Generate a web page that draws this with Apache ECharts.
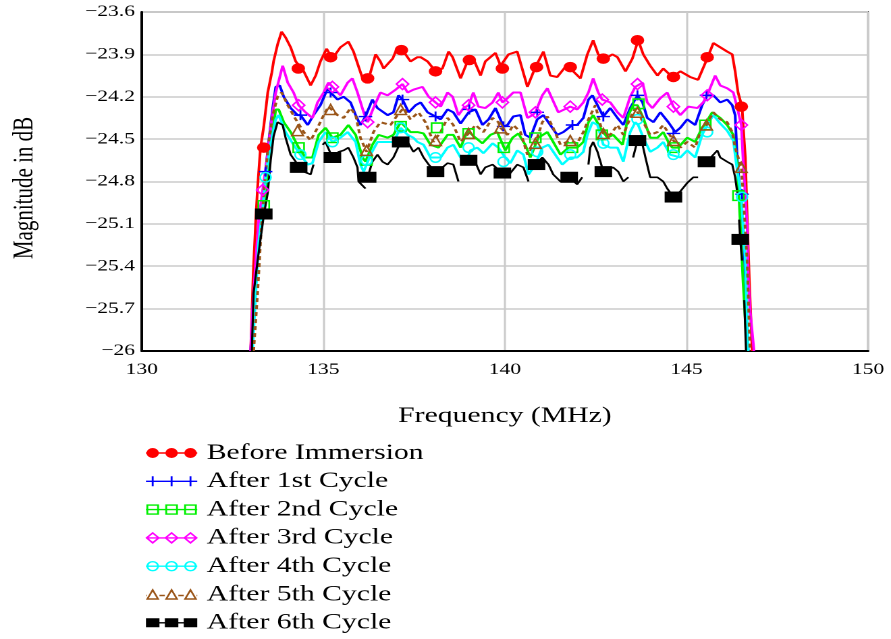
<!DOCTYPE html>
<html>
<head>
<meta charset="utf-8">
<script src="https://cdn.jsdelivr.net/npm/echarts@6/dist/echarts.min.js"></script>
<style>
  html, body { margin: 0; padding: 0; background: #fff; overflow: hidden; }
  /* chart is laid out narrow and widened horizontally, like the original export */
  #chart { width: 660px; height: 639px; transform: scaleX(1.35); transform-origin: 0 0; }
</style>
</head>
<body>
<div id="chart"></div>
<script>
// Axis ticks
const xTicks = [130, 135, 140, 145, 150];
const yTicks = [-26, -25.7, -25.4, -25.1, -24.8, -24.5, -24.2, -23.9, -23.6];

const seriesNames = ['Before Immersion', 'After 1st Cycle', 'After 2nd Cycle', 'After 3rd Cycle',
                     'After 4th Cycle', 'After 5th Cycle', 'After 6th Cycle'];

// Frequency (MHz), magnitude (dB)
const beforeImmersion = [[133.00,-26.0],[133.07,-25.45],[133.14,-25.07],[133.19,-24.84],[133.27,-24.56],[133.36,-24.41],[133.47,-24.17],[133.58,-24.03],[133.63,-23.95],[133.74,-23.83],[133.85,-23.74],[133.96,-23.78],[134.10,-23.85],[134.24,-23.95],[134.46,-24.02],[134.65,-24.12],[134.79,-24.05],[134.92,-23.95],[135.09,-23.86],[135.25,-23.93],[135.47,-23.85],[135.69,-23.81],[135.83,-23.88],[136.08,-24.07],[136.24,-24.08],[136.44,-23.90],[136.57,-23.95],[136.66,-24.00],[136.91,-23.93],[137.04,-23.85],[137.21,-23.88],[137.40,-23.95],[137.59,-23.92],[137.68,-23.92],[137.87,-23.95],[138.09,-24.02],[138.28,-24.00],[138.45,-23.88],[138.56,-23.92],[138.78,-24.07],[139.00,-23.93],[139.13,-23.93],[139.33,-24.05],[139.46,-23.95],[139.74,-23.89],[139.88,-23.98],[140.10,-23.90],[140.34,-23.88],[140.62,-24.13],[140.84,-23.99],[141.06,-23.88],[141.25,-24.05],[141.44,-24.06],[141.66,-23.99],[141.88,-24.02],[142.08,-24.07],[142.27,-23.90],[142.43,-23.80],[142.57,-23.90],[142.77,-23.93],[142.96,-23.90],[143.10,-23.92],[143.32,-24.02],[143.51,-23.93],[143.67,-23.80],[143.81,-23.90],[144.00,-23.98],[144.20,-24.05],[144.36,-24.00],[144.61,-24.06],[144.83,-24.02],[145.10,-24.06],[145.32,-24.08],[145.57,-23.93],[145.74,-23.82],[145.93,-23.85],[146.12,-23.88],[146.26,-23.90],[146.34,-24.02],[146.42,-24.17],[146.53,-24.27],[146.56,-24.40],[146.62,-24.63],[146.67,-25.04],[146.73,-25.50],[146.81,-26.0]];
const beforeImmersionMarks = [[133.36,-24.56],[134.31,-24.00],[135.20,-23.92],[136.22,-24.07],[137.15,-23.87],[138.09,-24.02],[139.02,-23.94],[139.93,-24.00],[140.87,-23.99],[141.80,-23.99],[142.71,-23.93],[143.65,-23.80],[144.64,-24.06],[145.57,-23.92],[146.51,-24.27]];

const cycle1 = [[133.00,-26.0],[133.08,-25.64],[133.16,-25.36],[133.27,-25.00],[133.41,-24.73],[133.49,-24.53],[133.60,-24.29],[133.69,-24.13],[133.80,-24.12],[133.91,-24.20],[134.10,-24.28],[134.29,-24.33],[134.37,-24.33],[134.57,-24.40],[134.73,-24.33],[134.92,-24.26],[135.12,-24.14],[135.20,-24.17],[135.39,-24.22],[135.56,-24.20],[135.75,-24.24],[135.89,-24.33],[136.02,-24.40],[136.16,-24.34],[136.35,-24.22],[136.49,-24.28],[136.77,-24.33],[136.93,-24.31],[137.07,-24.19],[137.18,-24.22],[137.35,-24.31],[137.54,-24.26],[137.68,-24.24],[137.87,-24.31],[138.09,-24.34],[138.23,-24.36],[138.42,-24.29],[138.58,-24.31],[138.78,-24.39],[139.00,-24.31],[139.19,-24.29],[139.38,-24.40],[139.55,-24.36],[139.74,-24.28],[139.96,-24.41],[140.07,-24.40],[140.23,-24.34],[140.43,-24.33],[140.56,-24.47],[140.70,-24.49],[140.89,-24.36],[141.06,-24.33],[141.25,-24.40],[141.44,-24.47],[141.61,-24.45],[141.86,-24.40],[141.99,-24.40],[142.16,-24.35],[142.30,-24.22],[142.41,-24.19],[142.55,-24.26],[142.71,-24.34],[142.90,-24.28],[143.10,-24.35],[143.26,-24.40],[143.45,-24.28],[143.65,-24.19],[143.79,-24.24],[143.92,-24.35],[144.09,-24.38],[144.28,-24.31],[144.50,-24.38],[144.69,-24.45],[144.83,-24.42],[145.02,-24.36],[145.24,-24.40],[145.43,-24.26],[145.57,-24.19],[145.74,-24.19],[145.93,-24.24],[146.12,-24.22],[146.26,-24.26],[146.34,-24.33],[146.40,-24.65],[146.48,-24.89],[146.56,-25.12],[146.64,-25.59],[146.70,-26.0]];
const cycle1Marks = [[133.41,-24.73],[134.37,-24.33],[135.20,-24.17],[136.16,-24.34],[137.18,-24.22],[138.09,-24.34],[139.02,-24.29],[139.96,-24.41],[140.89,-24.31],[141.86,-24.40],[142.71,-24.34],[143.65,-24.19],[144.64,-24.46],[145.55,-24.19],[146.53,-24.89]];

const cycle2 = [[133.03,-26.0],[133.14,-25.48],[133.25,-25.12],[133.36,-24.97],[133.41,-24.88],[133.49,-24.65],[133.60,-24.46],[133.69,-24.29],[133.77,-24.29],[133.91,-24.38],[134.10,-24.45],[134.32,-24.56],[134.51,-24.63],[134.70,-24.63],[134.87,-24.47],[135.06,-24.42],[135.25,-24.49],[135.47,-24.47],[135.69,-24.40],[135.89,-24.47],[136.08,-24.63],[136.16,-24.66],[136.35,-24.54],[136.52,-24.47],[136.77,-24.49],[136.93,-24.47],[137.13,-24.38],[137.40,-24.45],[137.59,-24.45],[137.76,-24.46],[137.95,-24.54],[138.17,-24.56],[138.42,-24.47],[138.58,-24.47],[138.78,-24.56],[138.97,-24.44],[139.19,-24.49],[139.38,-24.53],[139.60,-24.47],[139.79,-24.45],[140.01,-24.58],[140.21,-24.49],[140.37,-24.46],[140.56,-24.54],[140.70,-24.63],[140.92,-24.49],[141.17,-24.45],[141.33,-24.52],[141.53,-24.61],[141.75,-24.56],[141.99,-24.56],[142.16,-24.52],[142.30,-24.38],[142.43,-24.33],[142.63,-24.42],[142.82,-24.49],[142.98,-24.47],[143.24,-24.54],[143.40,-24.33],[143.53,-24.26],[143.65,-24.26],[143.81,-24.35],[144.00,-24.49],[144.20,-24.49],[144.36,-24.45],[144.50,-24.52],[144.61,-24.56],[144.77,-24.56],[145.02,-24.49],[145.24,-24.52],[145.43,-24.42],[145.52,-24.39],[145.71,-24.31],[145.93,-24.35],[146.12,-24.40],[146.29,-24.47],[146.40,-24.68],[146.45,-24.93],[146.56,-25.52],[146.67,-26.0]];
const cycle2Marks = [[133.36,-24.97],[134.32,-24.56],[135.25,-24.49],[136.19,-24.65],[137.13,-24.41],[138.13,-24.42],[139.00,-24.46],[139.97,-24.56],[140.84,-24.49],[141.85,-24.56],[142.67,-24.47],[143.68,-24.25],[144.64,-24.56],[145.52,-24.40],[146.43,-24.90]];

const cycle3 = [[133.00,-26.0],[133.05,-25.71],[133.14,-25.36],[133.22,-25.07],[133.33,-24.86],[133.47,-24.60],[133.55,-24.41],[133.69,-24.17],[133.88,-23.98],[134.02,-24.10],[134.18,-24.17],[134.32,-24.26],[134.51,-24.31],[134.70,-24.35],[134.84,-24.24],[135.01,-24.17],[135.14,-24.10],[135.25,-24.13],[135.47,-24.19],[135.67,-24.10],[135.80,-24.07],[135.94,-24.17],[136.11,-24.31],[136.22,-24.38],[136.38,-24.28],[136.57,-24.17],[136.77,-24.19],[136.99,-24.15],[137.18,-24.11],[137.32,-24.17],[137.48,-24.15],[137.73,-24.13],[137.90,-24.20],[138.09,-24.24],[138.23,-24.27],[138.42,-24.17],[138.56,-24.20],[138.72,-24.33],[138.86,-24.28],[139.00,-24.26],[139.13,-24.17],[139.27,-24.27],[139.46,-24.28],[139.66,-24.24],[139.82,-24.17],[139.93,-24.24],[140.07,-24.21],[140.23,-24.17],[140.43,-24.17],[140.62,-24.35],[140.76,-24.33],[140.84,-24.31],[141.03,-24.19],[141.17,-24.14],[141.31,-24.22],[141.47,-24.31],[141.80,-24.27],[141.99,-24.29],[142.16,-24.24],[142.30,-24.17],[142.43,-24.07],[142.57,-24.17],[142.68,-24.22],[142.90,-24.24],[143.10,-24.31],[143.26,-24.35],[143.45,-24.20],[143.59,-24.13],[143.79,-24.10],[143.92,-24.24],[144.06,-24.28],[144.28,-24.21],[144.47,-24.17],[144.64,-24.27],[144.83,-24.33],[145.05,-24.27],[145.30,-24.28],[145.46,-24.24],[145.57,-24.19],[145.79,-24.05],[145.93,-24.12],[146.12,-24.14],[146.29,-24.17],[146.40,-24.28],[146.51,-24.40],[146.56,-24.65],[146.67,-25.12],[146.70,-25.48],[146.75,-25.71],[146.86,-26.0]];
const cycle3Marks = [[133.33,-24.86],[134.32,-24.26],[135.25,-24.13],[136.22,-24.38],[137.18,-24.11],[138.09,-24.24],[139.00,-24.26],[139.93,-24.24],[140.84,-24.31],[141.80,-24.27],[142.68,-24.22],[143.65,-24.11],[144.64,-24.27],[145.57,-24.19],[146.51,-24.40]];

const cycle4 = [[133.05,-26.0],[133.14,-25.59],[133.22,-25.23],[133.33,-25.00],[133.41,-24.77],[133.55,-24.53],[133.69,-24.36],[133.77,-24.33],[133.96,-24.45],[134.18,-24.54],[134.37,-24.61],[134.57,-24.68],[134.70,-24.67],[134.87,-24.52],[135.06,-24.45],[135.25,-24.52],[135.47,-24.49],[135.67,-24.45],[135.89,-24.52],[136.02,-24.68],[136.11,-24.73],[136.30,-24.61],[136.49,-24.52],[136.77,-24.52],[136.93,-24.52],[137.13,-24.42],[137.32,-24.47],[137.48,-24.49],[137.59,-24.52],[137.76,-24.54],[137.95,-24.63],[138.23,-24.63],[138.42,-24.56],[138.58,-24.54],[138.78,-24.63],[138.91,-24.68],[139.05,-24.58],[139.24,-24.56],[139.41,-24.60],[139.66,-24.53],[139.82,-24.56],[140.01,-24.63],[140.15,-24.67],[140.34,-24.58],[140.51,-24.61],[140.65,-24.75],[140.84,-24.68],[141.03,-24.56],[141.20,-24.54],[141.44,-24.63],[141.58,-24.68],[141.80,-24.63],[141.99,-24.63],[142.16,-24.59],[142.27,-24.47],[142.41,-24.38],[142.55,-24.40],[142.71,-24.54],[142.90,-24.56],[143.10,-24.56],[143.26,-24.66],[143.45,-24.45],[143.59,-24.38],[143.67,-24.40],[143.81,-24.49],[144.00,-24.59],[144.20,-24.56],[144.36,-24.52],[144.55,-24.61],[144.83,-24.63],[145.02,-24.58],[145.24,-24.63],[145.43,-24.47],[145.57,-24.40],[145.74,-24.33],[145.93,-24.39],[146.12,-24.44],[146.29,-24.51],[146.37,-24.67],[146.51,-24.91],[146.62,-25.36],[146.70,-26.0]];
const cycle4Marks = [[133.41,-24.77],[134.37,-24.61],[135.25,-24.52],[136.19,-24.65],[137.13,-24.42],[138.09,-24.63],[139.00,-24.56],[139.96,-24.66],[140.89,-24.59],[141.80,-24.61],[142.71,-24.53],[143.65,-24.36],[144.64,-24.61],[145.57,-24.45],[146.53,-24.91]];

const cycle5 = [[133.08,-26.0],[133.19,-25.59],[133.27,-25.23],[133.36,-24.88],[133.49,-24.53],[133.60,-24.34],[133.74,-24.20],[133.85,-24.17],[134.02,-24.26],[134.24,-24.36],[134.46,-24.45],[134.65,-24.51],[134.84,-24.42],[135.01,-24.33],[135.14,-24.27],[135.39,-24.33],[135.56,-24.35],[135.75,-24.28],[135.89,-24.33],[136.02,-24.49],[136.19,-24.59],[136.38,-24.45],[136.57,-24.38],[136.85,-24.40],[137.04,-24.33],[137.21,-24.28],[137.40,-24.36],[137.62,-24.31],[137.81,-24.38],[138.03,-24.52],[138.23,-24.45],[138.42,-24.35],[138.58,-24.40],[138.78,-24.52],[139.00,-24.46],[139.19,-24.40],[139.41,-24.45],[139.66,-24.35],[139.82,-24.38],[139.88,-24.42],[140.07,-24.47],[140.23,-24.40],[140.43,-24.45],[140.62,-24.61],[140.84,-24.53],[141.03,-24.38],[141.17,-24.34],[141.33,-24.42],[141.53,-24.54],[141.80,-24.51],[141.99,-24.53],[142.16,-24.45],[142.30,-24.36],[142.49,-24.26],[142.63,-24.40],[142.71,-24.46],[142.90,-24.47],[143.10,-24.40],[143.26,-24.47],[143.45,-24.35],[143.59,-24.28],[143.65,-24.31],[143.81,-24.38],[144.00,-24.47],[144.20,-24.45],[144.36,-24.40],[144.64,-24.51],[144.83,-24.56],[145.02,-24.52],[145.24,-24.56],[145.38,-24.45],[145.55,-24.40],[145.74,-24.31],[145.93,-24.36],[146.12,-24.38],[146.26,-24.45],[146.34,-24.56],[146.51,-24.70],[146.56,-24.88],[146.67,-25.36],[146.75,-26.0]];
const cycle5Marks = [[134.29,-24.44],[135.20,-24.29],[136.19,-24.58],[137.13,-24.29],[138.09,-24.51],[139.00,-24.46],[139.88,-24.42],[140.84,-24.53],[141.80,-24.51],[142.71,-24.46],[143.65,-24.31],[144.64,-24.51],[145.55,-24.40],[146.51,-24.70]];

// null entries are breaks in the trace
const cycle6 = [[133.03,-26.0],[133.08,-25.59],[133.19,-25.36],[133.36,-25.04],[133.47,-24.88],[133.55,-24.65],[133.63,-24.48],[133.74,-24.38],[133.88,-24.40],[133.96,-24.49],[134.10,-24.61],[134.24,-24.66],[134.32,-24.70],[134.46,-24.73],[134.65,-24.75],[134.73,-24.68],null,[134.98,-24.54],[135.06,-24.52],[135.25,-24.63],[135.42,-24.59],[135.56,-24.58],[135.69,-24.56],[135.83,-24.63],[135.94,-24.70],[135.97,-24.80],[136.16,-24.85],null,[136.22,-24.77],[136.35,-24.66],[136.49,-24.61],[136.63,-24.66],[136.77,-24.68],[136.93,-24.63],[137.13,-24.52],[137.32,-24.52],[137.48,-24.59],[137.62,-24.56],[137.76,-24.63],[137.90,-24.68],[138.09,-24.73],[138.28,-24.70],[138.42,-24.67],[138.58,-24.68],[138.72,-24.80],null,[139.00,-24.65],[139.13,-24.63],[139.33,-24.75],[139.46,-24.70],[139.66,-24.68],[139.93,-24.74],[140.15,-24.74],[140.34,-24.68],[140.51,-24.70],[140.65,-24.80],null,[140.84,-24.68],[141.03,-24.63],[141.20,-24.68],[141.33,-24.75],[141.53,-24.80],[141.77,-24.77],[141.99,-24.82],[142.13,-24.77],null,[142.30,-24.68],[142.35,-24.56],[142.43,-24.52],[142.55,-24.59],[142.71,-24.73],[142.98,-24.70],[143.12,-24.73],[143.26,-24.80],[143.40,-24.77],null,[143.53,-24.63],[143.65,-24.51],[143.79,-24.54],[143.87,-24.63],[144.00,-24.77],[144.20,-24.77],[144.36,-24.80],[144.47,-24.85],[144.64,-24.91],[144.83,-24.87],[145.02,-24.81],[145.19,-24.77],[145.32,-24.77],null,[145.57,-24.66],[145.74,-24.61],[145.85,-24.58],[145.93,-24.63],[146.12,-24.66],[146.26,-24.68],[146.34,-24.77],[146.40,-24.88],null,[146.45,-25.07],[146.48,-25.21],[146.53,-25.36],null,[146.59,-25.64],[146.64,-26.0]];
const cycle6Marks = [[133.36,-25.03],[134.32,-24.70],[135.25,-24.63],[136.22,-24.77],[137.13,-24.52],[138.09,-24.73],[139.00,-24.65],[139.93,-24.74],[140.87,-24.68],[141.77,-24.77],[142.71,-24.73],[143.65,-24.51],[144.64,-24.91],[145.55,-24.66],[146.48,-25.21]];

const FONT = "'Liberation Serif', 'Times New Roman', serif";

// Per-trace drawing style
const styles = [
  { color: '#ff0000', width: 2, dash: 'solid', symbol: 'circle', size: [10, 10.5], filled: true,
    icon: 'path://M0,4.2L38,4.2L38,5.8L0,5.8Z M0.4,5A4.6,5,0,1,1,9.6,5A4.6,5,0,1,1,0.4,5Z M14.4,5A4.6,5,0,1,1,23.6,5A4.6,5,0,1,1,14.4,5Z M28.4,5A4.6,5,0,1,1,37.6,5A4.6,5,0,1,1,28.4,5Z' },
  { color: '#0000ff', width: 2, dash: 'solid', symbol: 'path://M0,5L10,5M5,0L5,10', size: [10, 10], filled: false,
    icon: 'path://M0,5L38,5 M1,5L9,5M5,0L5,10 M15,5L23,5M19,0L19,10 M29,5L37,5M33,0L33,10' },
  { color: '#00f000', width: 2, dash: 'solid', symbol: 'rect', size: [8, 9.5], filled: false,
    icon: 'path://M0,5L38,5 M1,0.5L9,0.5L9,9.5L1,9.5Z M15,0.5L23,0.5L23,9.5L15,9.5Z M29,0.5L37,0.5L37,9.5L29,9.5Z' },
  { color: '#ff00ff', width: 2, dash: 'solid', symbol: 'diamond', size: [9, 11], filled: false,
    icon: 'path://M0,5L38,5 M0.5,5L5,0L9.5,5L5,10Z M14.5,5L19,0L23.5,5L19,10Z M28.5,5L33,0L37.5,5L33,10Z' },
  { color: '#00ffff', width: 2, dash: 'solid', symbol: 'circle', size: [8, 9.5], filled: false,
    icon: 'path://M0,5L38,5 M1,5A4,4.5,0,1,0,9,5A4,4.5,0,1,0,1,5Z M15,5A4,4.5,0,1,0,23,5A4,4.5,0,1,0,15,5Z M29,5A4,4.5,0,1,0,37,5A4,4.5,0,1,0,29,5Z' },
  { color: '#9a5518', width: 2, dash: [4, 3], symbol: 'triangle', size: [8.5, 10], filled: false,
    icon: 'path://M1,9.5L5,0.5L9,9.5Z M15,9.5L19,0.5L23,9.5Z M29,9.5L33,0.5L37,9.5Z M10,6L14,6 M24,6L28,6 M0,6L0.5,6 M37.5,6L38,6' },
  { color: '#000000', width: 1.6, dash: 'solid', symbol: 'rect', size: [13, 11], filled: true,
    icon: 'path://M0,4.3L38,4.3L38,5.7L0,5.7Z M0,0.5L10,0.5L10,9.5L0,9.5Z M14,0.5L24,0.5L24,9.5L14,9.5Z M28,0.5L38,0.5L38,9.5L28,9.5Z' }
];

const traces = [beforeImmersion, cycle1, cycle2, cycle3, cycle4, cycle5, cycle6];
const marks = [beforeImmersionMarks, cycle1Marks, cycle2Marks, cycle3Marks, cycle4Marks, cycle5Marks, cycle6Marks];

const markerStyle = st => st.filled
  ? { color: st.color, borderWidth: 0, opacity: 1 }
  : { color: 'rgba(0,0,0,0)', borderColor: st.color, borderWidth: 1.4, opacity: 1 };

const series = [];
seriesNames.forEach((name, i) => {
  const st = styles[i];
  series.push({
    name, type: 'line', z: 2,
    data: traces[i].map(p => p === null ? ['-', '-'] : p),
    showSymbol: false, symbol: 'none', connectNulls: false,
    lineStyle: { color: st.color, width: st.width, type: st.dash },
    itemStyle: { color: st.color },
    emphasis: { disabled: true }, silent: true, animation: false
  });
});
seriesNames.forEach((name, i) => {
  const st = styles[i];
  series.push({
    name, type: 'scatter', z: 3,
    data: marks[i],
    symbol: st.symbol, symbolSize: st.size,
    itemStyle: markerStyle(st),
    emphasis: { disabled: true }, silent: true, animation: false
  });
});

const legendData = seriesNames.map((name, i) => ({
  name, icon: styles[i].icon, itemStyle: markerStyle(styles[i])
}));

const isTick = (v, ticks) => ticks.some(t => Math.abs(t - v) < 1e-6);
const fmt = v => String(Math.round(v * 10) / 10).replace('-', '\u2212');

const chart = echarts.init(document.getElementById('chart'), null, { renderer: 'canvas', devicePixelRatio: 2 });
chart.setOption({
  backgroundColor: '#ffffff',
  animation: false,
  grid: { left: 104.4, right: 17, top: 12, bottom: 288, show: true, borderColor: '#000', borderWidth: 1.2, backgroundColor: 'transparent' },
  xAxis: {
    type: 'value', min: xTicks[0], max: xTicks[xTicks.length - 1], interval: 5,
    name: 'Frequency (MHz)', nameLocation: 'middle', nameGap: 54,
    nameTextStyle: { fontFamily: FONT, fontSize: 22, color: '#000' },
    axisLine: { show: true, onZero: false, lineStyle: { color: '#000', width: 2 } },
    axisTick: { show: false },
    axisLabel: { fontFamily: FONT, fontSize: 16, color: '#000', margin: 11,
                 formatter: v => isTick(v, xTicks) ? fmt(v) : '' },
    splitLine: { show: true, lineStyle: { color: '#cbcbcb', width: 1.5 } }
  },
  yAxis: {
    type: 'value', min: yTicks[0], max: yTicks[yTicks.length - 1], interval: 0.1,
    name: 'Magnitude in dB', nameLocation: 'middle', nameGap: 76, nameRotate: 90,
    nameTextStyle: { fontFamily: FONT, fontSize: 21, color: '#000', padding: [0, 13, 0, 0] },
    axisLine: { show: true, onZero: false, lineStyle: { color: '#000', width: 2 } },
    axisTick: { show: false },
    axisLabel: { fontFamily: FONT, fontSize: 16, color: '#000', margin: 5,
                 formatter: v => isTick(v, yTicks) ? fmt(v) : '' },
    splitLine: { show: true, lineStyle: { color: ['#cbcbcb', 'rgba(0,0,0,0)', 'rgba(0,0,0,0)'], width: 1.5 } }
  },
  legend: {
    orient: 'vertical', left: 107.4, top: 442, padding: 0,
    itemWidth: 38, itemHeight: 10, itemGap: 6.3,
    selectedMode: false,
    textStyle: { fontFamily: FONT, fontSize: 22, lineHeight: 22, color: '#000', padding: [0, 0, 0, 2] },
    data: legendData
  },
  series
});
</script>
</body>
</html>
